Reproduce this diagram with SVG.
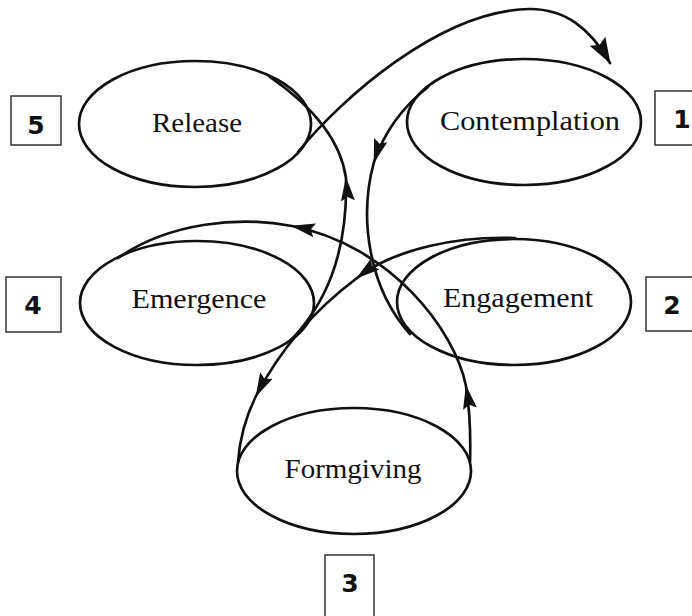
<svg xmlns="http://www.w3.org/2000/svg" width="692" height="616" viewBox="0 0 692 616">
<style>
.node ellipse{fill:none;stroke:#111;stroke-width:2.7}
.lbl{font-family:"Liberation Serif","Times New Roman",serif;font-size:28px;fill:#111;text-anchor:middle}
.box rect{fill:#fff;stroke:#333;stroke-width:1.5}
.num{font-family:"DejaVu Sans",sans-serif;font-weight:bold;font-size:25px;fill:#111;text-anchor:middle}
.con path{fill:none;stroke:#111;stroke-width:2.7;stroke-linecap:round}
</style>
<defs>
<marker id="ah" viewBox="0 0 24 14" refX="23" refY="7" markerWidth="24" markerHeight="14" markerUnits="userSpaceOnUse" orient="auto">
<path d="M0,0 L24,7 L0,14 L4,7 Z" fill="#111"/>
</marker>
<marker id="ahBig" viewBox="0 0 26 18" refX="25" refY="9" markerWidth="26" markerHeight="18" markerUnits="userSpaceOnUse" orient="auto">
<path d="M0,0 L26,9 L0,18 L4,9 Z" fill="#111"/>
</marker>
</defs>
<rect width="692" height="616" fill="#fff"/>
<g id="box5" class="box"><rect x="11" y="96" width="50" height="49"/><text class="num" x="36" y="134">5</text></g>
<g id="box1" class="box"><rect x="655" y="91" width="52" height="54"/><text class="num" x="682" y="128">1</text></g>
<g id="box4" class="box"><rect x="6" y="277" width="55" height="55"/><text class="num" x="33" y="314">4</text></g>
<g id="box2" class="box"><rect x="646" y="277" width="52" height="54"/><text class="num" x="672" y="314">2</text></g>
<g id="box3" class="box"><rect x="325" y="555" width="49" height="70"/><text class="num" x="350" y="592">3</text></g>
<g id="release" class="node"><ellipse cx="195" cy="124" rx="116" ry="63"/><text class="lbl" x="197" y="132" textLength="90" lengthAdjust="spacingAndGlyphs">Release</text></g>
<g id="contemplation" class="node"><ellipse cx="524" cy="122" rx="117" ry="63"/><text class="lbl" x="530" y="130" textLength="180" lengthAdjust="spacingAndGlyphs">Contemplation</text></g>
<g id="emergence" class="node"><ellipse cx="197" cy="303" rx="117" ry="62"/><text class="lbl" x="199" y="308" textLength="135" lengthAdjust="spacingAndGlyphs">Emergence</text></g>
<g id="engagement" class="node"><ellipse cx="514" cy="302" rx="117" ry="63"/><text class="lbl" x="518" y="307" textLength="150" lengthAdjust="spacingAndGlyphs">Engagement</text></g>
<g id="formgiving" class="node"><ellipse cx="354" cy="471" rx="117" ry="63"/><text class="lbl" x="353" y="478" textLength="137" lengthAdjust="spacingAndGlyphs">Formgiving</text></g>
<g id="connectors" class="con">
<path id="release-contemplation" d="M298,152 C340,100 440,10 530,9 C565,9 590,28 610,63" marker-end="url(#ahBig)"/>
<path id="contemplation-engagement" d="M428,87 C405,105 385,130 374,162 C358,220 370,290 410,334" marker-mid="url(#ah)"/>
<path id="engagement-formgiving" d="M515,238 C460,236 395,248 357,278 C325,302 285,340 256,396 C248,412 240,435 238,462" marker-mid="url(#ah)"/>
<path id="formgiving-emergence" d="M470,462 C471,430 469,405 466,386 C455,330 390,245 292,226 C240,216 170,222 118,258" marker-mid="url(#ah)"/>
<path id="emergence-release" d="M290,341 C325,305 348,255 346,178 C342,150 325,115 270,77" marker-mid="url(#ah)"/>
</g>
</svg>
